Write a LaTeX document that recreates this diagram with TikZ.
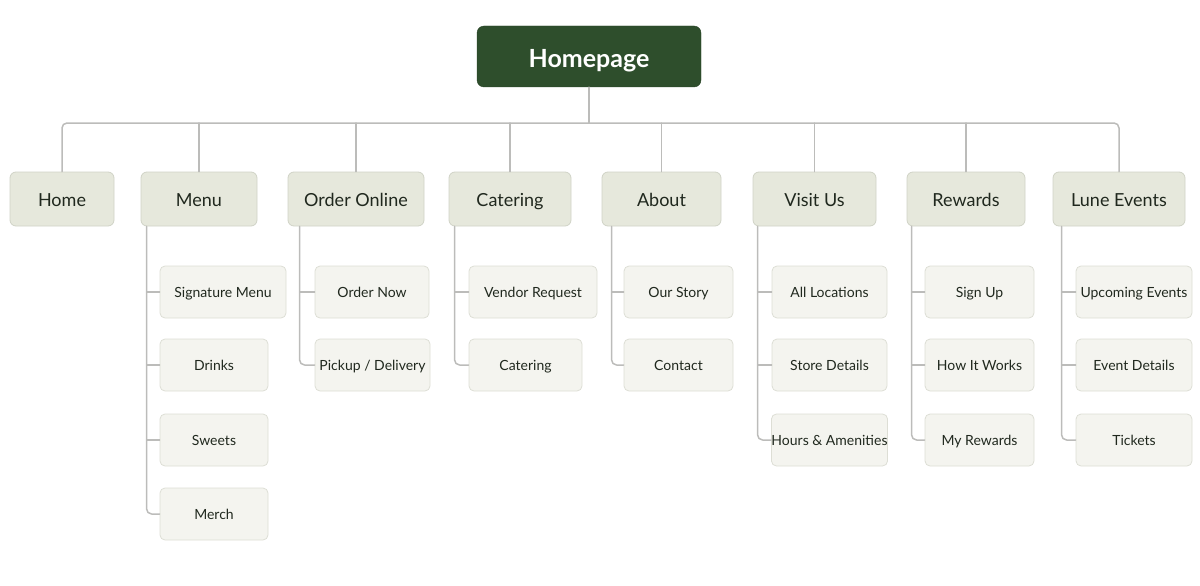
\documentclass[tikz,border=0pt]{standalone}
\usepackage{fontspec}
\setmainfont{Lato}
\usetikzlibrary{positioning, calc}

\definecolor{rootgreen}{RGB}{46,78,44}
\definecolor{secfill}{RGB}{230,232,220}
\definecolor{secline}{RGB}{208,211,198}
\definecolor{pagefill}{RGB}{244,244,239}
\definecolor{pageline}{RGB}{221,222,213}
\definecolor{linkgray}{RGB}{188,188,186}
\definecolor{inkdark}{RGB}{32,40,30}

\begin{document}
\begin{tikzpicture}[x=1pt,y=-1pt,line cap=round,line join=round,
  rootbox/.style={fill=rootgreen,draw=rootgreen!85!black,rounded corners=7pt,
    minimum width=224pt,minimum height=61pt,inner sep=0pt,text=white,
    text height=24pt,text depth=3pt,
    font=\fontsize{25}{28}\selectfont\bfseries},
  secbox/.style={fill=secfill,draw=secline,line width=0.8pt,rounded corners=6pt,
    minimum height=54pt,inner sep=0pt,text=inkdark,
    text height=17pt,text depth=2.5pt,
    font=\fontsize{18}{21}\selectfont},
  pagebox/.style={fill=pagefill,draw=pageline,line width=0.8pt,rounded corners=5pt,
    minimum height=52pt,inner sep=0pt,text=inkdark,
    text height=13pt,text depth=2pt,
    font=\fontsize{14}{17}\selectfont},
  link/.style={draw=linkgray,line width=1.5pt,rounded corners=5pt}]
  \useasboundingbox (0,0) rectangle (1200,586);
  % ---- root ------------------------------------------------------------------
  \node[rootbox] (homepage) at (589,56.5) {Homepage};
  \coordinate (bus) at (589,123);
  % ---- sections --------------------------------------------------------------
  \node[secbox,minimum width=104pt] (home) at (62,199) {Home};
  \node[secbox,minimum width=116pt] (menu) at (199,199) {Menu};
  \node[secbox,minimum width=136pt] (order) at (356,199) {Order Online};
  \node[secbox,minimum width=122pt] (catering) at (510,199) {Catering};
  \node[secbox,minimum width=119pt] (about) at (661.5,199) {About};
  \node[secbox,minimum width=123pt] (visit) at (814.5,199) {Visit Us};
  \node[secbox,minimum width=118pt] (rewards) at (966,199) {Rewards};
  \node[secbox,minimum width=132pt] (lune) at (1119,199) {Lune Events};
  % ---- pages -----------------------------------------------------------------
  \node[pagebox,minimum width=126pt] (signature) at (223,292) {Signature Menu};
  \node[pagebox,minimum width=108pt] (drinks) at (214,365) {Drinks};
  \node[pagebox,minimum width=108pt] (sweets) at (214,440) {Sweets};
  \node[pagebox,minimum width=108pt] (merch) at (214,514) {Merch};
  \node[pagebox,minimum width=114pt] (ordernow) at (372,292) {Order Now};
  \node[pagebox,minimum width=115pt] (pickup) at (372.5,365) {Pickup / Delivery};
  \node[pagebox,minimum width=128pt] (vendor) at (533,292) {Vendor Request};
  \node[pagebox,minimum width=113pt] (cateringpage) at (525.5,365) {Catering};
  \node[pagebox,minimum width=109pt] (story) at (678.5,292) {Our Story};
  \node[pagebox,minimum width=109pt] (contact) at (678.5,365) {Contact};
  \node[pagebox,minimum width=115pt] (locations) at (829.5,292) {All Locations};
  \node[pagebox,minimum width=115pt] (store) at (829.5,365) {Store Details};
  \node[pagebox,minimum width=115pt] (hours) at (829.5,440) {Hours \& Amenities};
  \node[pagebox,minimum width=109pt] (signup) at (979.5,292) {Sign Up};
  \node[pagebox,minimum width=109pt] (howworks) at (979.5,365) {How It Works};
  \node[pagebox,minimum width=109pt] (myrewards) at (979.5,440) {My Rewards};
  \node[pagebox,minimum width=116pt] (upcoming) at (1134,292) {Upcoming Events};
  \node[pagebox,minimum width=116pt] (eventdetails) at (1134,365) {Event Details};
  \node[pagebox,minimum width=116pt] (tickets) at (1134,440) {Tickets};
  % ---- root to sections ------------------------------------------------------
  \draw[link] (homepage.south) -- (bus);
  \draw[link] (home.north) |- (bus) -| (lune.north);
  \draw[link] (menu.north) -- (menu.north |- bus);
  \draw[link] (order.north) -- (order.north |- bus);
  \draw[link] (catering.north) -- (catering.north |- bus);
  \draw[link] (about.north) -- (about.north |- bus);
  \draw[link] (visit.north) -- (visit.north |- bus);
  \draw[link] (rewards.north) -- (rewards.north |- bus);
  % ---- sections to pages -----------------------------------------------------
  \coordinate (menustem) at ([xshift=6pt]menu.south west);
  \draw[link] (menustem) |- (merch.west);
  \draw[link] (signature.west -| menustem) -- (signature.west);
  \draw[link] (drinks.west -| menustem) -- (drinks.west);
  \draw[link] (sweets.west -| menustem) -- (sweets.west);
  \coordinate (orderstem) at ([xshift=12pt]order.south west);
  \draw[link] (orderstem) |- (pickup.west);
  \draw[link] (ordernow.west -| orderstem) -- (ordernow.west);
  \coordinate (cateringstem) at ([xshift=6pt]catering.south west);
  \draw[link] (cateringstem) |- (cateringpage.west);
  \draw[link] (vendor.west -| cateringstem) -- (vendor.west);
  \coordinate (aboutstem) at ([xshift=10pt]about.south west);
  \draw[link] (aboutstem) |- (contact.west);
  \draw[link] (story.west -| aboutstem) -- (story.west);
  \coordinate (visitstem) at ([xshift=5pt]visit.south west);
  \draw[link] (visitstem) |- (hours.west);
  \draw[link] (locations.west -| visitstem) -- (locations.west);
  \draw[link] (store.west -| visitstem) -- (store.west);
  \coordinate (rewardsstem) at ([xshift=5pt]rewards.south west);
  \draw[link] (rewardsstem) |- (myrewards.west);
  \draw[link] (signup.west -| rewardsstem) -- (signup.west);
  \draw[link] (howworks.west -| rewardsstem) -- (howworks.west);
  \coordinate (lunestem) at ([xshift=9pt]lune.south west);
  \draw[link] (lunestem) |- (tickets.west);
  \draw[link] (upcoming.west -| lunestem) -- (upcoming.west);
  \draw[link] (eventdetails.west -| lunestem) -- (eventdetails.west);
\end{tikzpicture}
\end{document}
